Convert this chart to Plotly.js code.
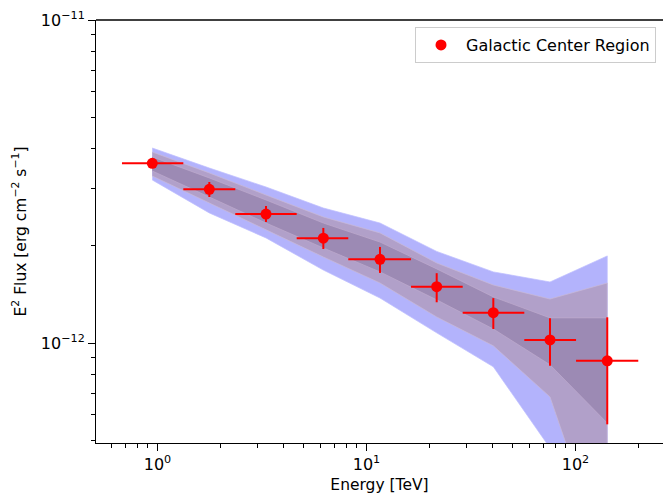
<!DOCTYPE html>
<html>
<head>
<meta charset="utf-8">
<script src="https://cdn.plot.ly/plotly-3.0.1.min.js"></script>
<style>html,body{margin:0;padding:0;background:#fff;}#chart{width:663px;height:494px;}</style>
</head>
<body>
<div id="chart"></div>
<script>
// Data (energies in TeV, fluxes in erg cm^-2 s^-1)
const seriesName = 'Galactic Center Region';
const energy   = [0.944, 1.770, 3.305, 6.215, 11.60, 21.67, 40.44, 75.51, 141.9];
const energyLo = [0.676, 1.329, 2.356, 4.634, 8.18, 16.33, 28.86, 56.89, 100.6];
const energyHi = [1.329, 2.356, 4.634, 8.18, 16.33, 28.86, 56.89, 100.6, 199.7];
const flux     = [3.601e-12, 2.991e-12, 2.508e-12, 2.111e-12, 1.816e-12, 1.494e-12, 1.241e-12, 1.022e-12, 0.881e-12];
const fluxHi   = [3.713e-12, 3.151e-12, 2.656e-12, 2.271e-12, 1.983e-12, 1.645e-12, 1.377e-12, 1.192e-12, 1.201e-12];
const fluxLo   = [3.505e-12, 2.831e-12, 2.370e-12, 1.954e-12, 1.648e-12, 1.337e-12, 1.105e-12, 0.851e-12, 0.560e-12];

// Uncertainty bands (upper / lower edges at each bin energy)
const outerHi = [4.015e-12, 3.481e-12, 3.041e-12, 2.618e-12, 2.352e-12, 1.921e-12, 1.660e-12, 1.545e-12, 1.860e-12];
const outerLo = [3.197e-12, 2.527e-12, 2.115e-12, 1.682e-12, 1.378e-12, 1.075e-12, 0.844e-12, 0.473e-12, 0.104e-12];
const midHi   = [3.902e-12, 3.361e-12, 2.872e-12, 2.456e-12, 2.192e-12, 1.769e-12, 1.512e-12, 1.368e-12, 1.534e-12];
const midLo   = [3.289e-12, 2.713e-12, 2.239e-12, 1.847e-12, 1.534e-12, 1.204e-12, 0.980e-12, 0.681e-12, 0.207e-12];
const innerHi = [3.768e-12, 3.243e-12, 2.772e-12, 2.352e-12, 2.054e-12, 1.696e-12, 1.389e-12, 1.196e-12, 1.196e-12];
const innerLo = [3.409e-12, 2.831e-12, 2.352e-12, 1.969e-12, 1.660e-12, 1.360e-12, 1.105e-12, 0.856e-12, 0.565e-12];

const xTickVals = [1, 10, 100];
const xTickText = ['10<sup>0</sup>', '10<sup>1</sup>', '10<sup>2</sup>'];
const yTickVals = [1e-12, 1e-11];
const yTickText = ['10<sup>\u221212</sup>', '10<sup>\u221211</sup>'];

function band(hi, lo, fillcolor, linecolor) {
  return {
    x: energy.concat(energy.slice().reverse()),
    y: hi.concat(lo.slice().reverse()),
    type: 'scatter', mode: 'lines', fill: 'toself',
    fillcolor: fillcolor,
    line: {color: linecolor, width: linecolor ? 0.8 : 0},
    showlegend: false, hoverinfo: 'skip'
  };
}

const traces = [
  band(outerHi, outerLo, 'rgb(179,179,252)', 'rgba(190,190,255,0.9)'),
  band(midHi, midLo, 'rgb(177,160,201)', 'rgba(200,185,215,0.9)'),
  band(innerHi, innerLo, 'rgb(156,138,180)', 'rgba(190,170,205,0.9)'),
  {
    x: energy, y: flux, type: 'scatter', mode: 'markers', name: seriesName,
    marker: {color: '#ff0000', size: 11, symbol: 'circle'},
    error_x: {type: 'data', symmetric: false,
      array: energy.map((e, i) => energyHi[i] - e),
      arrayminus: energy.map((e, i) => e - energyLo[i]),
      color: '#ff0000', thickness: 2, width: 0},
    error_y: {type: 'data', symmetric: false,
      array: flux.map((f, i) => fluxHi[i] - f),
      arrayminus: flux.map((f, i) => f - fluxLo[i]),
      color: '#ff0000', thickness: 2, width: 0}
  }
];

const tickFont = {family: 'DejaVu Sans, sans-serif', size: 16, color: '#000'};
const titleFont = {family: 'DejaVu Sans, sans-serif', size: 15.5, color: '#000'};

const layout = {
  width: 663, height: 494,
  margin: {l: 96, r: 0, t: 20, b: 51, pad: 0},
  paper_bgcolor: '#fff', plot_bgcolor: '#fff',
  font: tickFont,
  showlegend: true,
  legend: {
    x: 0.9877, xanchor: 'right', y: 0.9835, yanchor: 'top',
    bgcolor: '#fff', bordercolor: '#cccccc', borderwidth: 1,
    font: {family: 'DejaVu Sans, sans-serif', size: 16, color: '#000'},
    itemwidth: 40
  },
  xaxis: {
    type: 'log', range: [-0.2943, 2.4187],
    showgrid: false, zeroline: false,
    showline: true, linecolor: '#000', linewidth: 1,
    ticks: 'outside', ticklen: 7, tickwidth: 1, tickcolor: '#000',
    tickmode: 'array', tickvals: xTickVals, ticktext: xTickText,
    tickfont: tickFont,
    minor: {ticks: 'outside', ticklen: 4, tickwidth: 1, tickcolor: '#000', dtick: 'D1', showgrid: false},
    title: {text: 'Energy [TeV]', font: titleFont, standoff: 6}
  },
  yaxis: {
    type: 'log', range: [-12.3096, -11],
    showgrid: false, zeroline: false,
    showline: true, linecolor: '#000', linewidth: 1,
    ticks: 'outside', ticklen: 7, tickwidth: 1, tickcolor: '#000',
    tickmode: 'array', tickvals: yTickVals, ticktext: yTickText,
    tickfont: tickFont,
    minor: {ticks: 'outside', ticklen: 4, tickwidth: 1, tickcolor: '#000', dtick: 'D1', showgrid: false},
    title: {text: 'E<sup>2</sup> Flux [erg cm<sup>\u22122</sup> s<sup>\u22121</sup>]', font: titleFont, standoff: 10}
  },
  shapes: [{type: 'line', xref: 'paper', yref: 'paper', x0: 0, x1: 1, y0: 1, y1: 1,
            line: {color: '#000', width: 1.5}}]
};

Plotly.newPlot('chart', traces, layout, {displayModeBar: false, staticPlot: true});
</script>
</body>
</html>
